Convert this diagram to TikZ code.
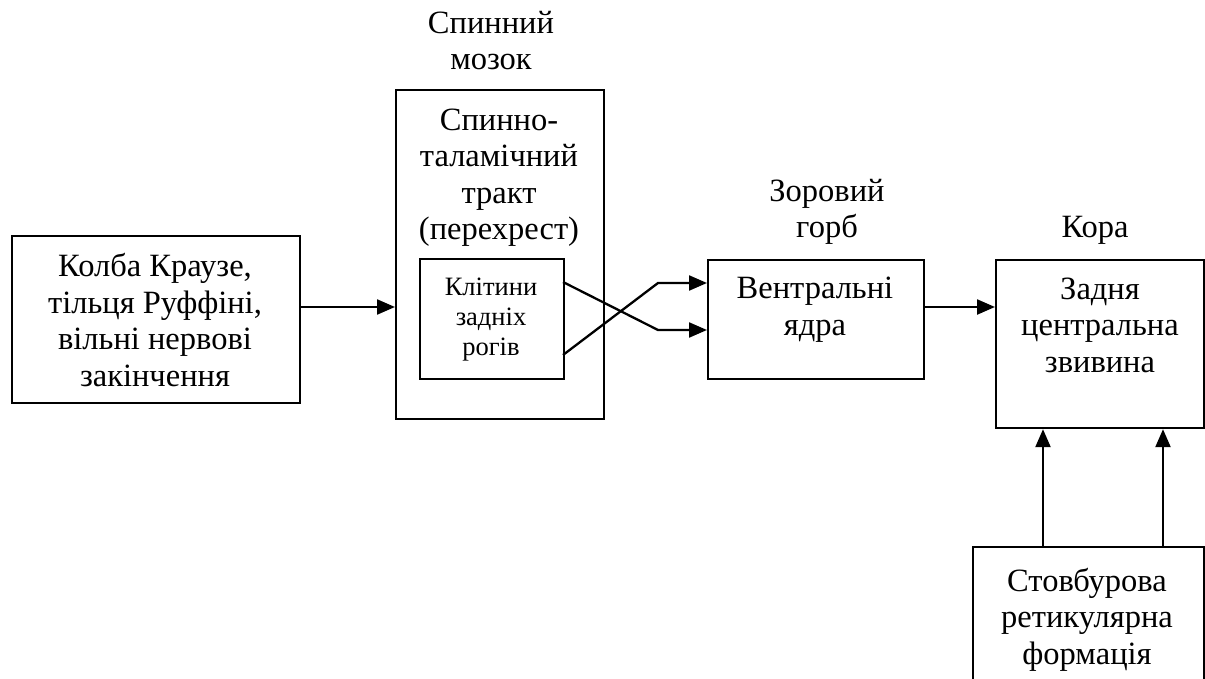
\documentclass[tikz,border=0pt]{standalone}
\usepackage{fontspec}
\setmainfont{Liberation Serif}
\usetikzlibrary{arrows.meta}
\begin{document}
\begin{tikzpicture}[x=1pt,y=-1pt,
  box/.style={draw, line width=2.2pt, inner sep=0pt, anchor=north west},
  % multi-line texts are placed by the baseline of their last line
  txt/.style={align=center, anchor=base, inner sep=0pt, font=\fontsize{32.5}{36.5}\selectfont},
  small/.style={txt, font=\fontsize{26.5}{30}\selectfont},
  link/.style={line width=2.3pt, -{Triangle[length=18pt,width=15pt]}}]
\useasboundingbox (0,0) rectangle (1205,679);
\clip (0,0) rectangle (1205,679);

% frames
\node[box, minimum width=288pt, minimum height=167pt] (recep)  at (11,235)  {};
\node[box, minimum width=208pt, minimum height=329pt] (cord)   at (395,89)  {};
\node[box, minimum width=144pt, minimum height=120pt] (horn)   at (419,258) {};
\node[box, minimum width=216pt, minimum height=119pt] (thal)   at (707,259) {};
\node[box, minimum width=208pt, minimum height=168pt] (cortex) at (995,259) {};
\node[box, minimum width=231pt, minimum height=160pt] (retic)  at (972,546) {};

% headings above the frames
\node[txt] (cordH)   at (491,70)  {Спинний\\мозок};
\node[txt] (thalH)   at (827,238) {Зоровий\\горб};
\node[txt] (cortexH) at (1095,238) {Кора};

% texts inside the frames
\node[txt] (recepT)  at (155,386)  {Колба Краузе,\\тільця Руффіні,\\вільні нервові\\закінчення};
\node[txt] (cordT)   at (499,240)  {Спинно-\\таламічний\\тракт\\(перехрест)};
\node[small] (hornT) at (491,355)  {Клітини\\задніх\\рогів};
\node[txt] (thalT)   at (815,335)  {Вентральні\\ядра};
\node[txt] (cortexT) at (1100,372) {Задня\\центральна\\звивина};
\node[txt] (reticT)  at (1087,664) {Стовбурова\\ретикулярна\\формація};

% connectors
\coordinate (lvl) at (0,307);
\coordinate (hornA) at (563,282);
\coordinate (hornB) at (563,355);
\coordinate (bendA) at (658,330);
\coordinate (bendB) at (658,283);
\coordinate (upL) at (1043,0);
\coordinate (upR) at (1163,0);

\draw[link] (recep.east |- lvl) -- (cord.west |- lvl);
\draw[link] (hornA) -- (bendA) -- (thal.west |- bendA);
\draw[link] (hornB) -- (bendB) -- (thal.west |- bendB);
\draw[link] (thal.east |- lvl) -- (cortex.west |- lvl);
\draw[link] (retic.north -| upL) -- (cortex.south -| upL);
\draw[link] (retic.north -| upR) -- (cortex.south -| upR);
\end{tikzpicture}
\end{document}
